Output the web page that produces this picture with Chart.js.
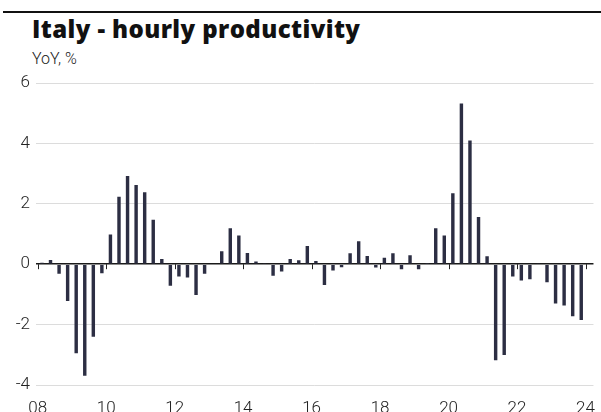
<!DOCTYPE html>
<html>
<head>
<meta charset="utf-8">
<script src="https://cdn.jsdelivr.net/npm/chart.js@4.4.1/dist/chart.umd.min.js"></script>
<style>
  html, body { margin: 0; padding: 0; background: #fff; }
  #wrap { position: relative; width: 601px; height: 412px; overflow: hidden; }
  #rule { position: absolute; left: 3px; top: 11px; width: 598px; height: 2px; background: #111; }
  #title { position: absolute; left: 32px; top: 12px; font-family: 'Open Sans', sans-serif; font-weight: 800;
           font-size: 24px; letter-spacing: 0.4px; color: #111; white-space: nowrap; }
  #sub { position: absolute; left: 32px; top: 49px; font-family: Roboto, sans-serif; font-weight: 300;
         font-size: 16px; color: #222; white-space: nowrap; }
  canvas { position: absolute; left: 0; top: 0; }
</style>
</head>
<body>
<div id="wrap">
  <div id="rule"></div>
  <div id="title">Italy - hourly productivity</div>
  <div id="sub">YoY, %</div>
  <canvas id="chart" width="601" height="412"></canvas>
</div>
<script>
// quarterly data, 2008 Q1 .. 2023 Q4
const years = [2008, 2009, 2010, 2011, 2012, 2013, 2014, 2015,
               2016, 2017, 2018, 2019, 2020, 2021, 2022, 2023];
const quarters = [1, 2, 3, 4];

const productivity = [
  0.05, 0.14, -0.32, -1.22,    // 2008
  -2.95, -3.69, -2.40, -0.30,  // 2009
  0.98, 2.23, 2.92, 2.62,      // 2010
  2.38, 1.47, 0.17, -0.71,     // 2011
  -0.41, -0.44, -1.02, -0.32,  // 2012
  0.00, 0.43, 1.19, 0.95,      // 2013
  0.37, 0.09, 0.03, -0.38,     // 2014
  -0.24, 0.17, 0.13, 0.60,     // 2015
  0.11, -0.69, -0.21, -0.10,   // 2016
  0.36, 0.76, 0.27, -0.11,     // 2017
  0.21, 0.36, -0.17, 0.30,     // 2018
  -0.17, 0.04, 1.19, 0.95,     // 2019
  2.35, 5.32, 4.10, 1.56,      // 2020
  0.26, -3.18, -3.01, -0.41,   // 2021
  -0.54, -0.50, 0.03, -0.60,   // 2022
  -1.30, -1.37, -1.72, -1.85   // 2023
];

const xTickYears = [2008, 2010, 2012, 2014, 2016, 2018, 2020, 2022, 2024];
const xTickLabels = ['08', '10', '12', '14', '16', '18', '20', '22', '24'];
const yTicks = [-4, -2, 0, 2, 4, 6];

// each quarter sits in the middle of its quarter-year band
const points = [];
years.forEach(function (y, i) {
  quarters.forEach(function (q, j) {
    points.push({ x: y + (q - 0.5) / 4, y: productivity[i * 4 + j] });
  });
});

const axisFont = { family: 'Roboto', size: 17, weight: '300' };

// little year marks hanging under the zero line
const yearMarks = {
  id: 'yearMarks',
  afterDatasetsDraw(chart) {
    const ctx = chart.ctx;
    const xs = chart.scales.x, ys = chart.scales.y;
    const y0 = ys.getPixelForValue(0);
    ctx.save();
    ctx.strokeStyle = '#222';
    ctx.lineWidth = 1;
    xTickYears.forEach(function (yr) {
      const px = Math.round(xs.getPixelForValue(yr)) + 0.5;
      ctx.beginPath();
      ctx.moveTo(px, y0);
      ctx.lineTo(px, y0 + 5);
      ctx.stroke();
    });
    ctx.restore();
  }
};

new Chart(document.getElementById('chart'), {
  type: 'bar',
  data: {
    datasets: [{
      data: points,
      backgroundColor: '#2c2e43',
      barPercentage: 0.4,
      categoryPercentage: 1.0
    }]
  },
  options: {
    responsive: false,
    animation: false,
    layout: { padding: { top: 83, right: 3, left: 0, bottom: 0 } },
    plugins: { legend: { display: false }, tooltip: { enabled: false } },
    scales: {
      x: {
        type: 'linear',
        offset: false,
        min: 2007.951,
        max: 2024.232,
        afterBuildTicks: function (scale) {
          scale.ticks = xTickYears.map(function (v) { return { value: v }; });
        },
        afterFit: function (scale) { scale.height = 27; },
        ticks: {
          autoSkip: false,
          maxRotation: 0,
          padding: 6,
          color: '#222',
          font: axisFont,
          callback: function (v) { return xTickLabels[xTickYears.indexOf(v)]; }
        },
        grid: { display: false, offset: false },
        border: { display: false }
      },
      y: {
        min: -4,
        max: 6,
        afterBuildTicks: function (scale) {
          scale.ticks = yTicks.map(function (v) { return { value: v }; });
        },
        afterFit: function (scale) { scale.width = 36; },
        ticks: { padding: 6, color: '#222', font: axisFont },
        grid: {
          drawTicks: false,
          color: function (c) { return c.tick && c.tick.value === 0 ? '#1a1a1a' : '#dcdcdc'; },
          lineWidth: function (c) { return c.tick && c.tick.value === 0 ? 1.6 : 1; }
        },
        border: { display: false }
      }
    }
  },
  plugins: [yearMarks]
});
</script>
</body>
</html>
